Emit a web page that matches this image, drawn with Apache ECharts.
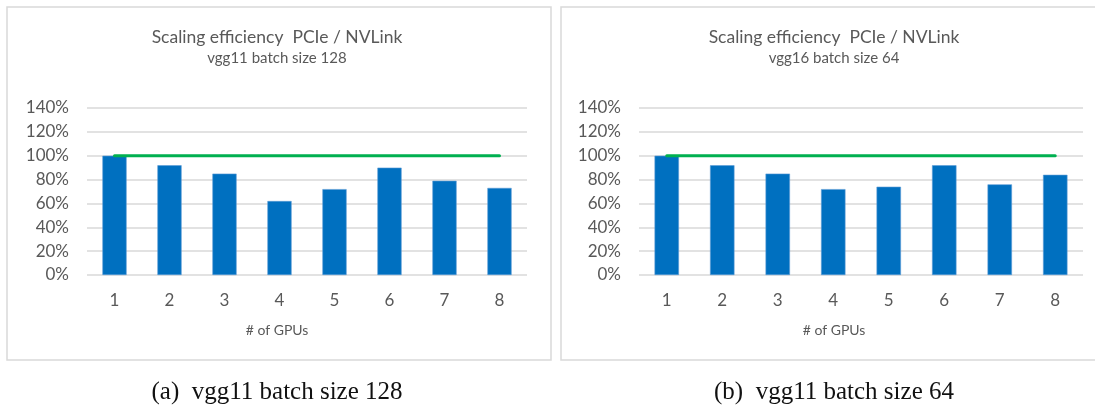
<!DOCTYPE html>
<html>
<head>
<meta charset="utf-8">
<script src="https://cdn.jsdelivr.net/npm/echarts@6/dist/echarts.min.js"></script>
<style>
  html, body { margin: 0; padding: 0; background: #ffffff; }
  #chart { width: 1095px; height: 408px; }
</style>
</head>
<body>
<div id="chart"></div>
<script>
// Number of GPUs on the x axis
const gpus = ['1', '2', '3', '4', '5', '6', '7', '8'];
// Scaling efficiency PCIe / NVLink (fraction)
const vgg11Batch128 = [1.00, 0.92, 0.85, 0.62, 0.72, 0.90, 0.79, 0.73];
const vgg16Batch64  = [1.00, 0.92, 0.85, 0.72, 0.74, 0.92, 0.76, 0.84];
// Reference level (ideal efficiency)
const ideal = [1.00, 1.00, 1.00, 1.00, 1.00, 1.00, 1.00, 1.00];
// Value axis ticks
const yMin = 0, yMax = 1.4, yStep = 0.2;

const panelTitle = 'Scaling efficiency  PCIe / NVLink';
const subtitles = ['vgg11 batch size 128', 'vgg16 batch size 64'];
const captions = ['(a)  vgg11 batch size 128', '(b)  vgg11 batch size 64'];
const xName = '# of GPUs';

const gray = '#595959';
const sans = 'Lato, "Open Sans", sans-serif';

const chart = echarts.init(document.getElementById('chart'), null, { renderer: 'canvas' });

const grids = [
  { left: 87, top: 108, width: 440, height: 167 },
  { left: 639, top: 108, width: 444, height: 167 }
];
const frames = [{ x: 7, w: 544 }, { x: 561, w: 546 }];
const centers = [277, 834];

function xAxis(i) {
  return {
    type: 'category', gridIndex: i, data: gpus, boundaryGap: true,
    axisLine: { show: false }, axisTick: { show: false },
    axisLabel: { color: gray, fontFamily: sans, fontSize: 17, margin: 17 }
  };
}
function yAxis(i) {
  return {
    type: 'value', gridIndex: i, min: yMin, max: yMax, interval: yStep,
    axisLine: { show: false }, axisTick: { show: false },
    splitLine: { lineStyle: { color: '#d9d9d9', width: 1.5 } },
    axisLabel: {
      color: gray, fontFamily: sans, fontSize: 17, margin: 18,
      formatter: v => Math.round(v * 100) + '%'
    }
  };
}
function bars(i, data) {
  return {
    type: 'bar', xAxisIndex: i, yAxisIndex: i, data: data, barWidth: '44%',
    itemStyle: { color: '#0070c0', borderColor: '#5b9bd5', borderWidth: 0.6 },
    silent: true, z: 2
  };
}
function idealLine(i) {
  return {
    type: 'line', xAxisIndex: i, yAxisIndex: i, data: ideal,
    showSymbol: false, symbol: 'none', silent: true, z: 3,
    lineStyle: { color: '#00b050', width: 3, cap: 'round' }
  };
}

const graphics = [];
frames.forEach((f, i) => {
  graphics.push({
    type: 'rect', shape: { x: f.x, y: 7, width: f.w, height: 353 },
    style: { fill: 'none', stroke: '#d9d9d9', lineWidth: 1.5 }, silent: true, z: 0
  });
  const cx = centers[i];
  graphics.push({
    type: 'text', x: cx, y: 37,
    style: { text: panelTitle, fill: gray, font: '17.5px ' + sans, textAlign: 'center', textVerticalAlign: 'middle' }
  });
  graphics.push({
    type: 'text', x: cx, y: 58,
    style: { text: subtitles[i], fill: gray, font: '15px ' + sans, textAlign: 'center', textVerticalAlign: 'middle' }
  });
  graphics.push({
    type: 'text', x: cx, y: 330,
    style: { text: xName, fill: gray, font: '14px ' + sans, textAlign: 'center', textVerticalAlign: 'middle' }
  });
  graphics.push({
    type: 'text', x: cx, y: 392,
    style: { text: captions[i], fill: '#111111', font: '25px "Liberation Serif", serif', textAlign: 'center', textVerticalAlign: 'middle' }
  });
});

chart.setOption({
  animation: false,
  backgroundColor: '#ffffff',
  grid: grids,
  xAxis: [xAxis(0), xAxis(1)],
  yAxis: [yAxis(0), yAxis(1)],
  series: [
    bars(0, vgg11Batch128), idealLine(0),
    bars(1, vgg16Batch64), idealLine(1)
  ],
  graphic: graphics
});
</script>
</body>
</html>
